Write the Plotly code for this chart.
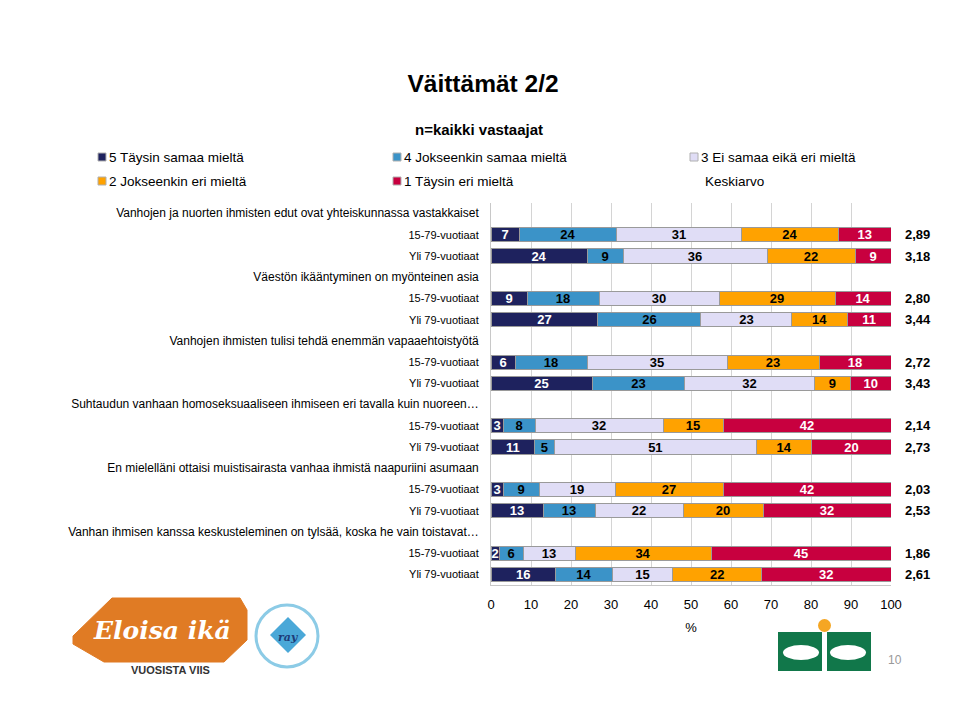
import plotly.graph_objects as go

# ---------------- data ----------------
statements = [
    "Vanhojen ja nuorten ihmisten edut ovat yhteiskunnassa vastakkaiset",
    "Väestön ikääntyminen on myönteinen asia",
    "Vanhojen ihmisten tulisi tehdä enemmän vapaaehtoistyötä",
    "Suhtaudun vanhaan homoseksuaaliseen ihmiseen eri tavalla kuin nuoreen…",
    "En mielelläni ottaisi muistisairasta vanhaa ihmistä naapuriini asumaan",
    "Vanhan ihmisen kanssa keskusteleminen on tylsää, koska he vain toistavat…",
]
groups = ["15-79-vuotiaat", "Yli 79-vuotiaat"]

# None = statement header row (no bar)
s5 = [None, 7, 24, None, 9, 27, None, 6, 25, None, 3, 11, None, 3, 13, None, 2, 16]
s4 = [None, 24, 9, None, 18, 26, None, 18, 23, None, 8, 5, None, 9, 13, None, 6, 14]
s3 = [None, 31, 36, None, 30, 23, None, 35, 32, None, 32, 51, None, 19, 22, None, 13, 15]
s2 = [None, 24, 22, None, 29, 14, None, 23, 9, None, 15, 14, None, 27, 20, None, 34, 22]
s1 = [None, 13, 9, None, 14, 11, None, 18, 10, None, 42, 20, None, 42, 32, None, 45, 32]
keskiarvo = [None, "2,89", "3,18", None, "2,80", "3,44", None, "2,72", "3,43",
             None, "2,14", "2,73", None, "2,03", "2,53", None, "1,86", "2,61"]

series_names = ["5 Täysin samaa mieltä", "4 Jokseenkin samaa mieltä",
                "3 Ei samaa eikä eri mieltä", "2 Jokseenkin eri mieltä",
                "1 Täysin eri mieltä"]
series_vals = [s5, s4, s3, s2, s1]
colors = ["#1e225e", "#3b93c8", "#e0ddf6", "#ffa200", "#c8003f"]
text_colors = ["white", "black", "black", "black", "white"]
x_ticks = [0, 10, 20, 30, 40, 50, 60, 70, 80, 90, 100]

FONT = "Liberation Sans, Arial, sans-serif"

# row tick labels: statement header followed by its two groups
row_labels = []
for st in statements:
    row_labels.append(f'<span style="font-size:12px">{st}</span>')
    row_labels.extend(groups)

# layout geometry (page has an 8px body offset)
OFF = 8
L, T, W, HP = 483, 195, 400, 382
R = 960 - L - W
B = 720 - T - HP


def px2(xp, yp):
    """target-page pixel -> plot 'paper' coordinates"""
    fx, fy = xp - OFF, yp - OFF
    return (fx - L) / W, (T + HP - fy) / HP


ypos = list(range(len(row_labels)))
totals = []
for i in ypos:
    vals = [sv[i] for sv in series_vals]
    totals.append(sum(vals) if vals[0] is not None else None)

fig = go.Figure()
for name, vals, col, tcol in zip(series_names, series_vals, colors, text_colors):
    xs, ys, ts = [], [], []
    for i, v in zip(ypos, vals):
        if v is None:
            continue
        xs.append(v / totals[i] * 100)
        ys.append(i)
        ts.append(str(v))
    fig.add_trace(go.Bar(
        x=xs, y=ys, orientation="h", name=name,
        marker=dict(color=col, line=dict(color="#9a9a9a", width=1)),
        text=ts, textposition="inside", insidetextanchor="middle",
        constraintext="none", textangle=0,
        textfont=dict(color=tcol, size=13, family=FONT, weight="bold"),
        showlegend=False, hoverinfo="skip",
    ))

# Keskiarvo column
for i, k in zip(ypos, keskiarvo):
    if k is None:
        continue
    fig.add_annotation(x=px2(903, 0)[0], xref="paper", y=i, yref="y", text=k,
                       showarrow=False, xanchor="left", yanchor="middle",
                       font=dict(size=13, family=FONT, color="black", weight="bold"))

fig.update_layout(
    width=960, height=720,
    margin=dict(l=L, r=R, t=T, b=B, autoexpand=False),
    barmode="stack", bargap=0.33,
    plot_bgcolor="white", paper_bgcolor="white",
    font=dict(family=FONT, color="black"),
    xaxis=dict(range=[0, 100], tickvals=x_ticks, ticktext=[str(t) for t in x_ticks],
               showgrid=True, gridcolor="#d4d4d4", gridwidth=1, zeroline=False,
               showline=True, linecolor="#c8c8c8", ticks="",
               tickfont=dict(size=13, family=FONT, color="black"),
               ticklabelstandoff=7, automargin=False,
               title=dict(text="%", font=dict(size=13, family=FONT), standoff=12)),
    yaxis=dict(range=[len(row_labels) - 0.5, -0.5], tickvals=ypos, ticktext=row_labels,
               showgrid=False, zeroline=False, showline=True, linecolor="#c8c8c8",
               ticks="", ticklabelstandoff=9, automargin=False,
               tickfont=dict(size=11, family=FONT, color="black")),
    title=dict(text="<b>Väittämät 2/2</b>", x=(483 - OFF) / 960, xanchor="center",
               y=1 - (83 - OFF) / 720, yanchor="middle",
               font=dict(size=24.5, family=FONT, color="black")),
)

# subtitle
sx, sy = px2(479, 130)
fig.add_annotation(x=sx, y=sy, xref="paper", yref="paper",
                   text="<b>n=kaikki vastaajat</b>", showarrow=False,
                   xanchor="center", yanchor="middle",
                   font=dict(size=15, family=FONT, color="black"))

# manual legend (3 columns x 2 rows)
leg_items = [
    (series_names[0], colors[0], 98, 157), (series_names[1], colors[1], 393, 157),
    (series_names[2], colors[2], 690, 157), (series_names[3], colors[3], 98, 181),
    (series_names[4], colors[4], 393, 181), ("Keskiarvo", None, 690, 181),
]
for txt, col, px, py in leg_items:
    if col is not None:
        x0, y0 = px2(px, py + 4)
        x1, y1 = px2(px + 8, py - 4)
        fig.add_shape(type="rect", xref="paper", yref="paper",
                      x0=x0, x1=x1, y0=y0, y1=y1,
                      fillcolor=col, line=dict(color="#b0b0b0", width=1))
        tx = px + 9
    else:
        tx = px + 13
    ax, ay = px2(tx, py)
    fig.add_annotation(x=ax, y=ay, xref="paper", yref="paper",
                       text=txt, showarrow=False, xanchor="left", yanchor="middle",
                       font=dict(size=13.5, family=FONT, color="black"))


def poly(pts):
    return "M " + " L ".join(f"{px2(x, y)[0]},{px2(x, y)[1]}" for x, y in pts) + " Z"


# ---- decorative logos (approximate) ----
fig.add_shape(type="path", xref="paper", yref="paper",
              path=poly([(73, 636), (112, 598), (240, 598), (247, 610), (247, 640),
                         (224, 662), (104, 662), (73, 644)]),
              fillcolor="#e07b24", line=dict(color="#e07b24", width=1))
ex, ey = px2(162, 630)
fig.add_annotation(x=ex, y=ey, xref="paper", yref="paper",
                   text="<i><b>Eloisa ikä</b></i>", showarrow=False,
                   xanchor="center", yanchor="middle",
                   font=dict(size=25, family="DejaVu Serif, serif", color="white"))
vx, vy = px2(170, 670)
fig.add_annotation(x=vx, y=vy, xref="paper", yref="paper",
                   text="<b>VUOSISTA VIIS</b>", showarrow=False,
                   xanchor="center", yanchor="middle",
                   font=dict(size=11, family=FONT, color="#333333"))
# RAY circle
cx0, cy0 = px2(256, 667)
cx1, cy1 = px2(318, 605)
fig.add_shape(type="circle", xref="paper", yref="paper",
              x0=cx0, x1=cx1, y0=cy0, y1=cy1,
              fillcolor="white", line=dict(color="#8ccbe6", width=3))
fig.add_shape(type="path", xref="paper", yref="paper",
              path=poly([(288, 617), (306, 635), (288, 653), (270, 635)]),
              fillcolor="#4aa8d8", line=dict(width=0))
rax, ray_ = px2(288, 637)
fig.add_annotation(x=rax, y=ray_, xref="paper", yref="paper",
                   text="<i><b>ray</b></i>", showarrow=False,
                   xanchor="center", yanchor="middle",
                   font=dict(size=11, family="DejaVu Serif, serif", color="#1e3c78"))
# green logo
gx0, gy0 = px2(778, 671)
gx1, gy1 = px2(871, 632)
fig.add_shape(type="rect", xref="paper", yref="paper",
              x0=gx0, x1=gx1, y0=gy0, y1=gy1,
              fillcolor="#11774a", line=dict(width=0))
wx0, _ = px2(822, 0)
wx1, _ = px2(827, 0)
fig.add_shape(type="rect", xref="paper", yref="paper",
              x0=wx0, x1=wx1, y0=gy0, y1=gy1,
              fillcolor="white", line=dict(width=0))
for lx0, lx1 in [(783, 819), (830, 866)]:
    a0, b0 = px2(lx0, 660)
    a1, b1 = px2(lx1, 645)
    fig.add_shape(type="circle", xref="paper", yref="paper",
                  x0=a0, x1=a1, y0=b0, y1=b1,
                  fillcolor="white", line=dict(width=0))
ox0, oy0 = px2(818, 632)
ox1, oy1 = px2(831, 619)
fig.add_shape(type="circle", xref="paper", yref="paper",
              x0=ox0, x1=ox1, y0=oy0, y1=oy1,
              fillcolor="#f5a623", line=dict(width=0))
nx, ny = px2(895, 660)
fig.add_annotation(x=nx, y=ny, xref="paper", yref="paper",
                   text="10", showarrow=False, xanchor="center", yanchor="middle",
                   font=dict(size=12, family=FONT, color="#999999"))

fig.write_html("out.html")
